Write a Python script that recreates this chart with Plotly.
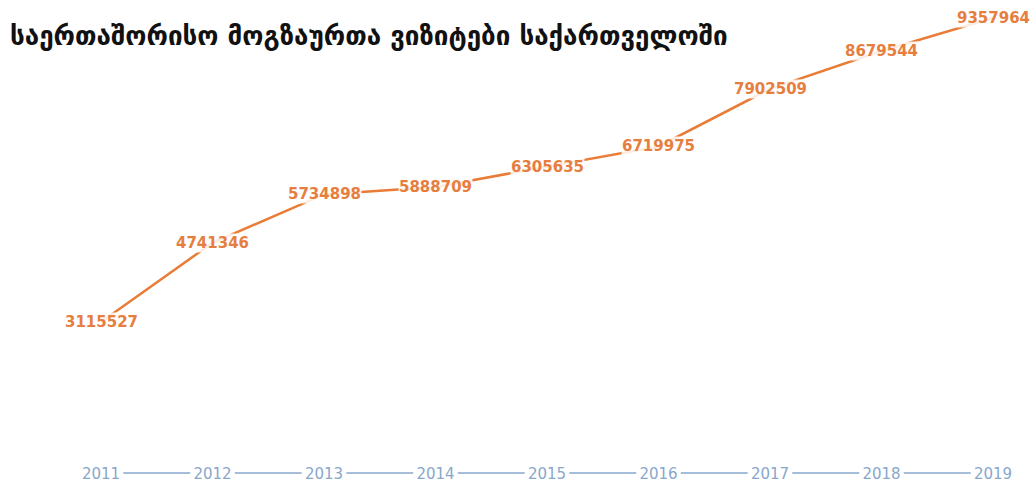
import plotly.graph_objects as go

years = [2011, 2012, 2013, 2014, 2015, 2016, 2017, 2018, 2019]
visits = [3115527, 4741346, 5734898, 5888709, 6305635, 6719975, 7902509, 8679544, 9357964]
tick_labels = [str(y) for y in years]
title_text = "საერთაშორისო მოგზაურთა ვიზიტები საქართველოში"

W, H = 1032, 485
T, B, L, R = 5, 22, 101, 39
plot_h = H - T - B

line_color = "#e97c36"
label_color = "#e67e3f"
axis_color = "#88a7cc"

fig = go.Figure()
fig.add_trace(go.Scatter(
    x=years, y=visits, mode="lines",
    line=dict(color=line_color, width=2.5),
    hoverinfo="x+y", showlegend=False,
))

for x, v in zip(years, visits):
    fig.add_annotation(
        x=x, y=v, xref="x", yref="y", text=str(v), showarrow=False,
        font=dict(family="DejaVu Sans", size=15, color=label_color, weight="bold"),
        bgcolor="rgba(255,255,255,0.85)", borderpad=0,
        xanchor="center", yanchor="middle",
    )

# baseline segments between year labels
base_y = (463 - 473) / plot_h
for a, b in zip(years[:-1], years[1:]):
    fig.add_shape(type="line", xref="x", yref="paper",
                  x0=a + 0.2, x1=b - 0.2, y0=base_y, y1=base_y,
                  line=dict(color=axis_color, width=1.5))

fig.update_layout(
    width=W, height=H,
    margin=dict(l=L, r=R, t=T, b=B),
    paper_bgcolor="white", plot_bgcolor="white",
    title=dict(text=title_text, x=10 / W, xanchor="left",
               y=1 - 36 / H, yanchor="middle",
               font=dict(family="DejaVu Sans", size=26, color="#111111", weight="bold")),
    xaxis=dict(range=[2011, 2019], tickmode="array", tickvals=years, ticktext=tick_labels,
               showgrid=False, zeroline=False, showline=False, ticks="",
               automargin=False,
               tickfont=dict(family="DejaVu Sans", size=15, color=axis_color)),
    yaxis=dict(range=[220000, 9625000], visible=False, showgrid=False, zeroline=False,
               automargin=False),
)

fig.write_html("out.html")
